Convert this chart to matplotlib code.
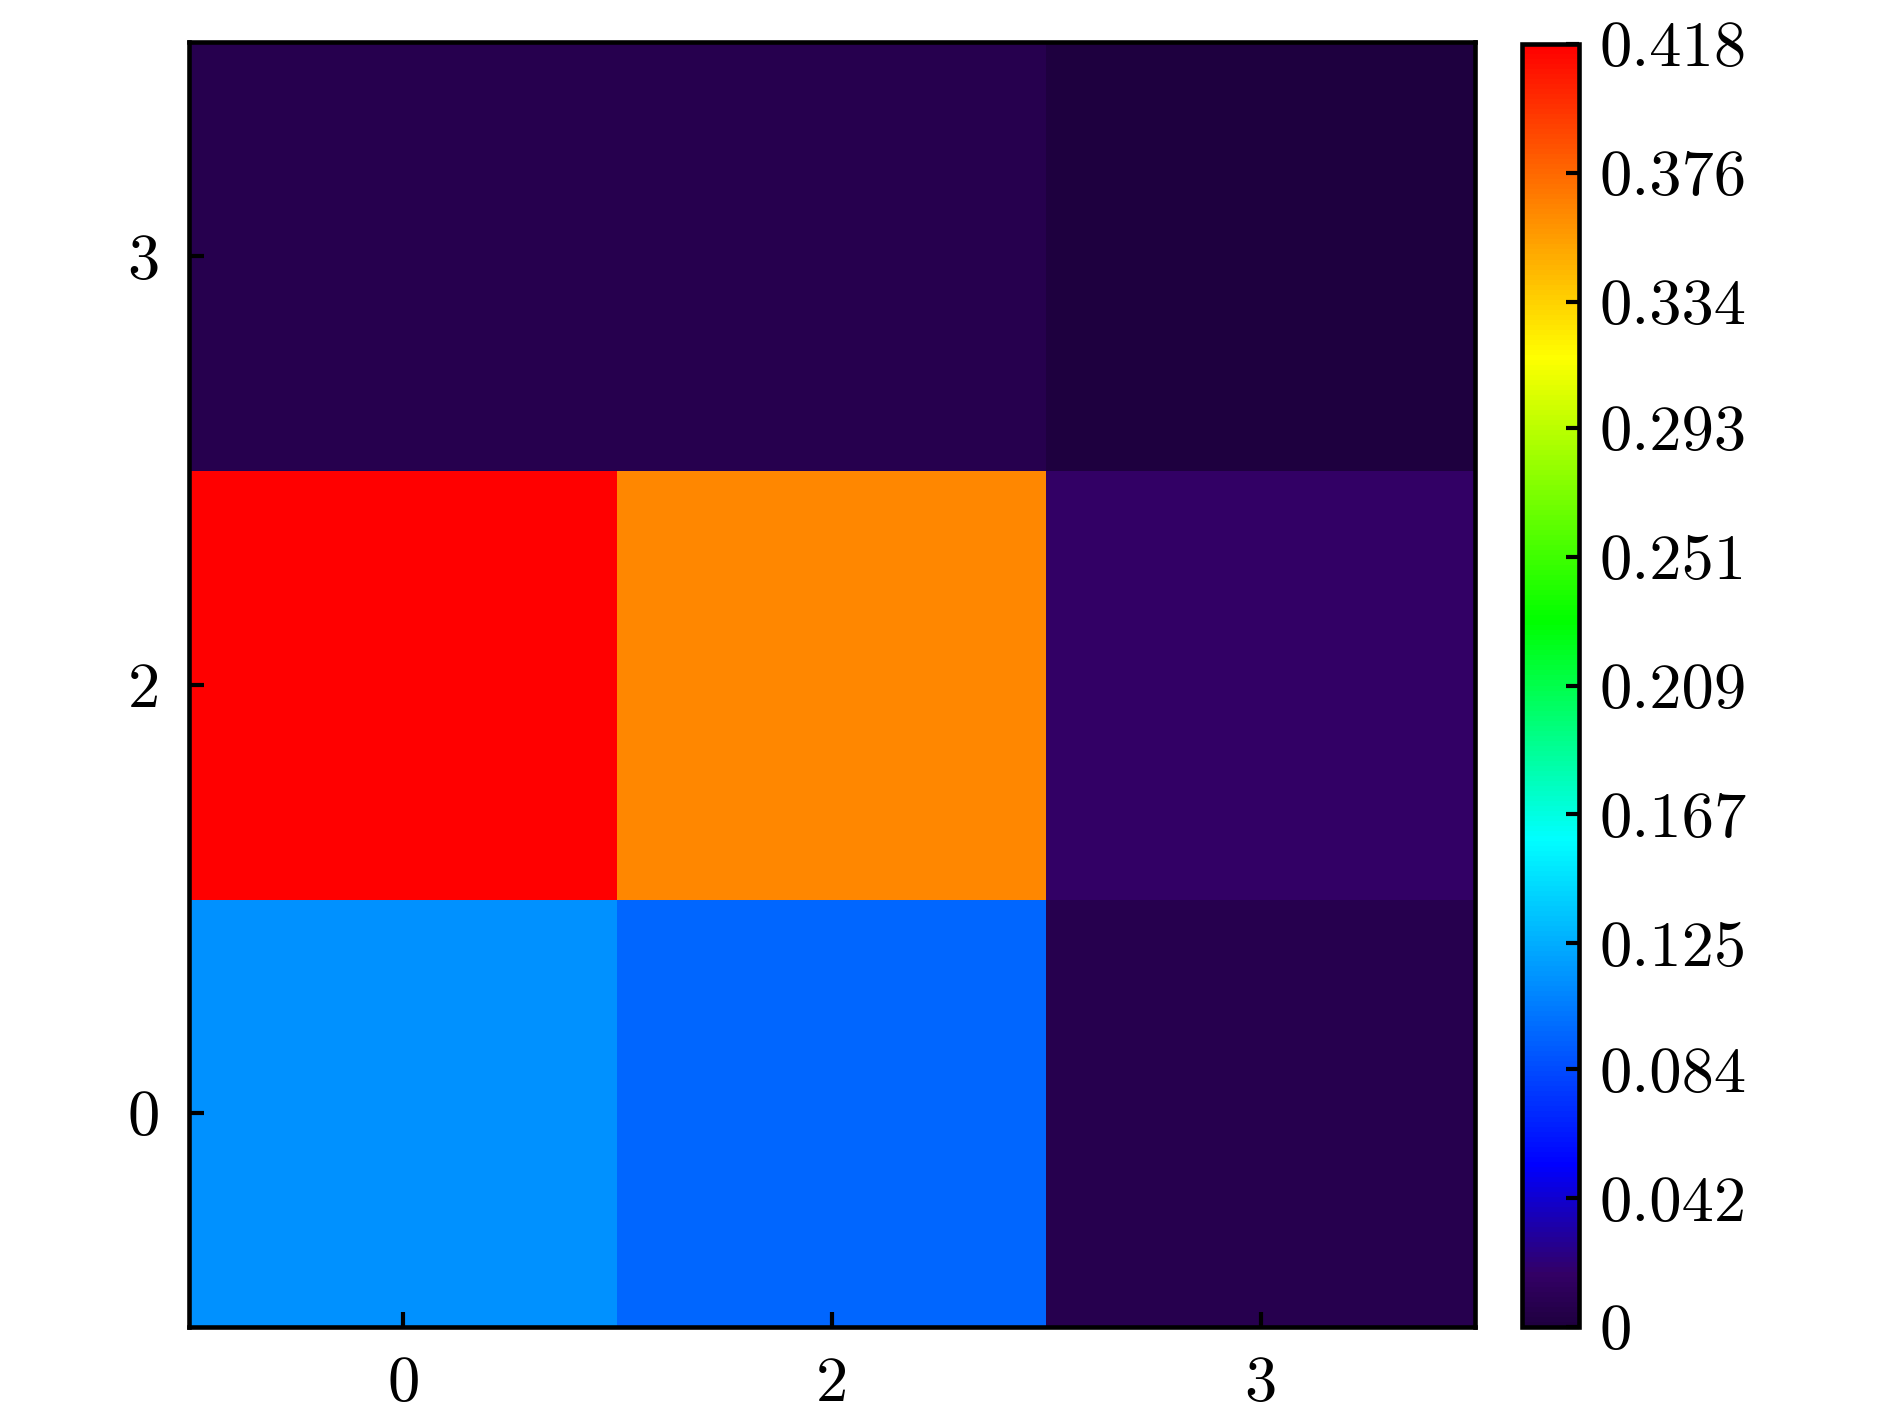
import numpy as np
import matplotlib
matplotlib.use("Agg")
import matplotlib.pyplot as plt
from matplotlib.colors import LinearSegmentedColormap

plt.rcParams["font.family"] = "serif"
plt.rcParams["font.serif"] = ["cmr10"]
plt.rcParams["mathtext.fontset"] = "cm"
plt.rcParams["axes.formatter.use_mathtext"] = True

# data (rows bottom -> top)
x_labels = ["0", "2", "3"]
y_labels = ["0", "2", "3"]
row_0 = [0.114, 0.095, 0.007]
row_2 = [0.418, 0.364, 0.017]
row_3 = [0.008, 0.008, 0.001]
vmax = 0.418
cbar_ticks = [0, 0.042, 0.084, 0.125, 0.167, 0.209, 0.251, 0.293, 0.334, 0.376, 0.418]

grid = np.array([row_0, row_2, row_3])

cmap = LinearSegmentedColormap.from_list("purple_rainbow", [
    (0.0, (0.12, 0.0, 0.25)),
    (0.04, (0.2, 0.0, 0.4)),
    (0.125, (0.0, 0.0, 1.0)),
    (0.38, (0.0, 1.0, 1.0)),
    (0.55, (0.0, 1.0, 0.0)),
    (0.757, (1.0, 1.0, 0.0)),
    (1.0, (1.0, 0.0, 0.0)),
])

W, H = 1890, 1418
fig = plt.figure(figsize=(W / 300, H / 300), dpi=300)
ax = fig.add_axes([189 / W, 1 - 1327 / H, (1475 - 189) / W, (1327 - 42) / H])
cax = fig.add_axes([1522 / W, 1 - 1327 / H, (1579 - 1522) / W, (1327 - 44) / H])

im = ax.imshow(grid, cmap=cmap, vmin=0, vmax=vmax, origin="lower", aspect="auto",
               interpolation="nearest")

ax.set_xticks(range(len(x_labels)))
ax.set_xticklabels(x_labels)
ax.set_yticks(range(len(y_labels)))
ax.set_yticklabels(y_labels)
ax.tick_params(direction="in", length=3.5, width=1.0, labelsize=15.5, pad=7)
for s in ax.spines.values():
    s.set_linewidth(1.1)

cb = fig.colorbar(im, cax=cax)
cb.set_ticks(cbar_ticks)
cb.set_ticklabels(["0" if t == 0 else f"{t:.3f}" for t in cbar_ticks])
cax.tick_params(direction="in", length=3.2, width=1.0, labelsize=15.5, pad=5)
cb.outline.set_linewidth(1.1)

fig.savefig("out.png", dpi=300)
